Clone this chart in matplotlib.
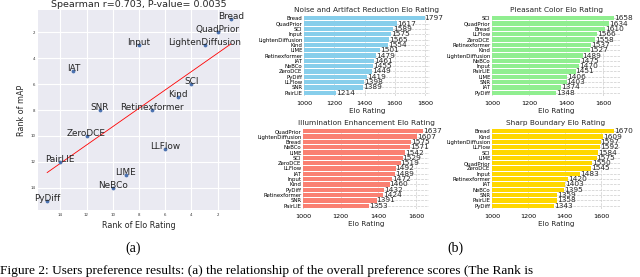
import matplotlib.pyplot as plt
import numpy as np

# (a) rank scatter data
methods = ['Bread', 'QuadPrior', 'LightenDiffusion', 'SCI', 'Kind', 'LLFlow',
           'Retinexformer', 'Input', 'LIME', 'NeBCo', 'SNR', 'ZeroDCE', 'IAT',
           'PairLIE', 'PyDiff']
elo_rank = [1, 2, 3, 4, 5, 6, 7, 8, 9, 10, 11, 12, 13, 14, 15]
map_rank = [1, 2, 3, 6, 7, 11, 8, 3, 13, 14, 8, 10, 5, 12, 15]

# (b) Elo ratings per criterion (sorted high -> low)
noise_names = ['Bread', 'QuadPrior', 'SCI', 'Input', 'LightenDiffusion', 'Kind', 'LIME',
               'Retinexformer', 'IAT', 'NeBCo', 'ZeroDCE', 'PyDiff', 'LLFlow', 'SNR', 'PairLIE']
noise_vals = [1797, 1617, 1589, 1575, 1565, 1554, 1501, 1479, 1461, 1455, 1449, 1419, 1398, 1389, 1214]

color_names = ['SCI', 'QuadPrior', 'Bread', 'LLFlow', 'ZeroDCE', 'Retinexformer', 'Kind',
               'LightenDiffusion', 'NeBCo', 'Input', 'PairLIE', 'LIME', 'SNR', 'IAT', 'PyDiff']
color_vals = [1658, 1634, 1610, 1566, 1558, 1537, 1527, 1489, 1475, 1470, 1451, 1406, 1403, 1374, 1348]

illum_names = ['QuadPrior', 'LightenDiffusion', 'Bread', 'NeBCo', 'LIME', 'SCI', 'ZeroDCE',
               'LLFlow', 'IAT', 'Input', 'Kind', 'PyDiff', 'Retinexformer', 'SNR', 'PairLIE']
illum_vals = [1637, 1607, 1575, 1571, 1542, 1529, 1519, 1492, 1489, 1472, 1460, 1432, 1424, 1391, 1353]

sharp_names = ['Bread', 'Kind', 'LightenDiffusion', 'LLFlow', 'SCI', 'LIME', 'QuadPrior',
               'ZeroDCE', 'Input', 'Retinexformer', 'IAT', 'NeBCo', 'SNR', 'PairLIE', 'PyDiff']
sharp_vals = [1670, 1609, 1597, 1592, 1584, 1575, 1550, 1545, 1483, 1420, 1403, 1395, 1359, 1358, 1343]

W, H = 640, 277
fig = plt.figure(figsize=(6.4, 2.77), dpi=100)


def px_axes(x0, y0, x1, y1):
    return fig.add_axes([x0 / W, 1 - y1 / H, (x1 - x0) / W, (y1 - y0) / H])


# ---- (a) scatter ----
ax = px_axes(38, 10, 240, 210)
ax.set_facecolor('#EAEAF2')
ax.set_axisbelow(True)
ax.grid(True, color='white', linewidth=0.8)
for s in ax.spines.values():
    s.set_visible(False)
ax.scatter(elo_rank, map_rank, s=3, color='#4C72B0', zorder=3)
for name, xv, yv in zip(methods, elo_rank, map_rank):
    ax.text(xv, yv, name, ha='center', va='baseline', fontsize=6.4, color='#262626', zorder=4)
k, b = np.polyfit(elo_rank, map_rank, 1)
xl = np.array([max(elo_rank), min(elo_rank)])
ax.plot(xl, k * xl + b, color='red', linewidth=0.6, zorder=2)
ax.set_xlim(15.7, 0.3)
ax.set_ylim(15.7, 0.3)
ax.set_xticks([14, 12, 10, 8, 6, 4, 2])
ax.set_yticks([2, 4, 6, 8, 10, 12, 14])
ax.tick_params(labelsize=2.8, length=0, pad=2, colors='#333333')
ax.set_title('Spearman r=0.703, P-value= 0.0035', fontsize=6.8, pad=2, color='#262626')
ax.set_xlabel('Rank of Elo Rating', fontsize=5.8, labelpad=3, color='#262626')
ax.set_ylabel('Rank of mAP', fontsize=5.8, labelpad=3, color='#262626')

# ---- (b) bar charts ----
panels = [
    (noise_names, noise_vals, '#87CEEB', 'Noise and Artifact Reduction Elo Rating', (304, 15, 430, 96)),
    (color_names, color_vals, '#90EE90', 'Pleasant Color Elo Rating', (492, 15, 620, 96)),
    (illum_names, illum_vals, '#FA8072', 'Illumination Enhancement Elo Rating', (303, 128, 429, 209)),
    (sharp_names, sharp_vals, '#FFD700', 'Sharp Boundary Elo Rating', (492, 128, 620, 209)),
]
for names, vals, col, title, box in panels:
    bx = px_axes(*box)
    pos = np.arange(len(names))
    bx.set_axisbelow(True)
    bx.grid(True, linestyle='--', color='#cccccc', linewidth=0.5)
    bx.barh(pos, vals, height=0.8, color=col)
    for p, v in zip(pos, vals):
        bx.text(v, p, str(v), va='center', ha='left', fontsize=5.3, color='#262626')
    bx.set_yticks(pos)
    bx.set_yticklabels(names)
    bx.set_ylim(len(names) - 0.4, -0.6)
    bx.set_xlim(1000, max(vals) * 1.02)
    for s in bx.spines.values():
        s.set_visible(False)
    bx.tick_params(axis='y', labelsize=3.9, length=0, pad=1)
    bx.tick_params(axis='x', labelsize=4.6, length=0, pad=3.5)
    bx.set_title(title, fontsize=5.3, pad=2, color='#262626')
    bx.set_xlabel('Elo Rating', fontsize=5.2, labelpad=1.5, color='#262626')

# ---- sub-labels and caption ----
serif = ['Liberation Serif', 'DejaVu Serif']
fig.text(133 / W, 1 - 248 / H, '(a)', ha='center', va='center', fontsize=10, family=serif)
fig.text(455 / W, 1 - 248 / H, '(b)', ha='center', va='center', fontsize=10, family=serif)
fig.text(0.0, 0.0,
         'Figure 2: Users preference results: (a) the relationship of the overall preference scores (The Rank is',
         ha='left', va='bottom', fontsize=9.6, family=serif)

fig.savefig('out.png', dpi=100)
